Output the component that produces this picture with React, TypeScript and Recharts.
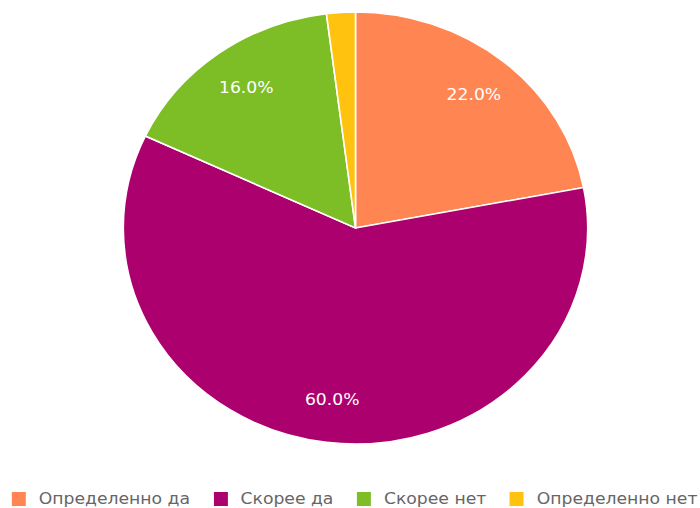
import React from 'react';
import { PieChart, Pie, Cell } from 'recharts';

const categories = ['Определенно да', 'Скорее да', 'Скорее нет', 'Определенно нет'];
const shares = [22, 60, 16, 2];
const colors = ['#FF8652', '#AD006F', '#7DBE26', '#FFC20E'];

const data = categories.map((name, i) => ({ name, value: shares[i] }));

// the reference pie is a little wider than tall, so the whole chart is stretched sideways
const SX = 1.075;
const W = 700 / SX;
const RAD = Math.PI / 180;

const renderLabel = (props: any) => {
  const { cx, cy, midAngle, outerRadius, percent } = props;
  if (percent < 0.05) return null;
  const r = outerRadius * 0.8;
  const x = cx + r * Math.cos(-midAngle * RAD);
  const y = cy + r * Math.sin(-midAngle * RAD);
  return (
    <text x={x} y={y} fill="#ffffff" textAnchor="middle" dominantBaseline="central"
      fontSize={16} fontFamily="DejaVu Sans">
      {(percent * 100).toFixed(1)}%
    </text>
  );
};

export default function App() {
  return (
    <div style={{ position: 'absolute', left: 0, top: 0, width: 700, height: 508, background: '#fff', overflow: 'hidden' }}>
      <div style={{ position: 'relative', width: W, height: 508, transform: `scaleX(${SX})`, transformOrigin: '0 0' }}>
        <PieChart width={W} height={470} margin={{ top: 0, right: 0, bottom: 0, left: 0 }}>
          <Pie
            data={data}
            dataKey="value"
            nameKey="name"
            cx={355.5 / SX}
            cy={228}
            outerRadius={216}
            startAngle={90}
            endAngle={-270}
            stroke="#ffffff"
            strokeWidth={1.5}
            label={renderLabel}
            labelLine={false}
            isAnimationActive={false}
          >
            {data.map((d, i) => (
              <Cell key={d.name} fill={colors[i]} />
            ))}
          </Pie>
        </PieChart>
        <div style={{ position: 'absolute', left: 11, top: 489, width: W, display: 'flex', whiteSpace: 'nowrap', fontFamily: 'DejaVu Sans', fontSize: 16, lineHeight: '20px', color: '#666' }}>
          {categories.map((c, i) => (
            <div key={c} style={{ display: 'flex', alignItems: 'center', flexShrink: 0, marginRight: 22 }}>
              <span style={{ width: 13, height: 14, background: colors[i], display: 'inline-block', marginRight: 12 }} />
              <span>{c}</span>
            </div>
          ))}
        </div>
      </div>
    </div>
  );
}
